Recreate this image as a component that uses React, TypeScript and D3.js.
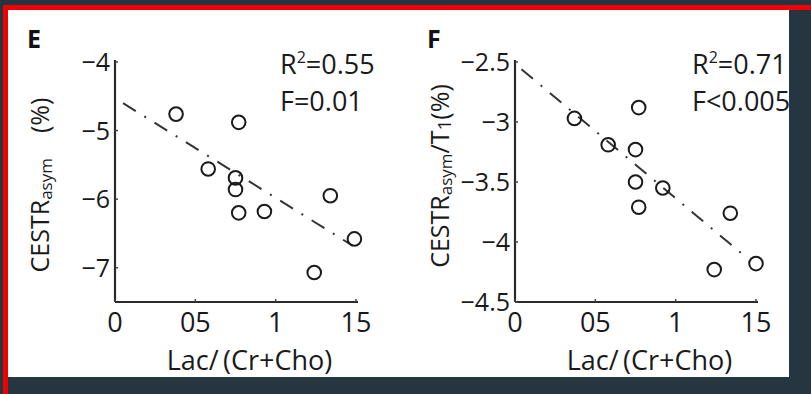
import React, { useEffect, useRef } from "react";
import * as d3 from "d3";

// shared x axis
const xTicks = [0, 0.5, 1, 1.5];
const xTickLabels = ["0", "05", "1", "15"];

// panel E
const lacE = [0.38, 0.77, 0.58, 0.75, 0.75, 1.34, 0.77, 0.93, 1.49, 1.24];
const cestE = [-4.76, -4.88, -5.56, -5.69, -5.86, -5.95, -6.2, -6.18, -6.58, -7.07];
const yTicksE = [-4, -5, -6, -7];
const yTickLabelsE = ["−4", "−5", "−6", "−7"];
const fitE = [
  [0.05, -4.6],
  [1.48, -6.68],
];

// panel F
const lacF = [0.37, 0.77, 0.58, 0.75, 0.75, 0.92, 0.77, 1.34, 1.24, 1.5];
const cestF = [-2.97, -2.88, -3.19, -3.23, -3.5, -3.55, -3.71, -3.76, -4.23, -4.18];
const yTicksF = [-2.5, -3, -3.5, -4, -4.5];
const yTickLabelsF = ["−2.5", "−3", "−3.5", "−4", "−4.5"];
const fitF = [
  [0.04, -2.56],
  [1.45, -4.14],
];

const FONT = "'Open Sans', 'Noto Sans', sans-serif";

export default function App() {
  const svgRef = useRef<SVGSVGElement>(null);

  useEffect(() => {
    const width = 811;
    const height = 394;

    const svg = d3.select(svgRef.current).attr("width", width).attr("height", height);
    svg.selectAll("*").remove();

    // frame
    svg.append("rect").attr("width", width).attr("height", height).attr("fill", "#263641");
    svg.append("rect").attr("x", 3).attr("y", 5).attr("width", width - 3).attr("height", 5).attr("fill", "#f10000");
    svg.append("rect").attr("x", 3).attr("y", 5).attr("width", 5).attr("height", height - 5).attr("fill", "#f10000");
    svg.append("rect").attr("x", 8).attr("y", 10).attr("width", 781).attr("height", 367).attr("fill", "#ffffff");

    svg
      .append("clipPath")
      .attr("id", "panel-clip")
      .append("rect")
      .attr("x", 8)
      .attr("y", 10)
      .attr("width", 781)
      .attr("height", 367);

    const root = svg.append("g").attr("clip-path", "url(#panel-clip)");

    const drawPanel = (opts: {
      left: number;
      letter: string;
      xs: number[];
      ys: number[];
      yDomain: [number, number];
      yTicks: number[];
      yTickLabels: string[];
      fit: number[][];
      r2: string;
      pText: string;
      statsX: number;
      yLabelCenter: number;
      yLabelTail: (t: d3.Selection<SVGTextElement, unknown, null, undefined>) => void;
    }) => {
      const g = root.append("g");
      const xScale = d3.scaleLinear().domain([0, 1.5]).range([opts.left, opts.left + 241]);
      const yScale = d3.scaleLinear().domain(opts.yDomain).range([302, 62]);
      const y0 = 302;

      // axes
      g.append("line")
        .attr("x1", opts.left)
        .attr("x2", opts.left)
        .attr("y1", 60)
        .attr("y2", y0)
        .attr("stroke", "#2a2a2a")
        .attr("stroke-width", 2.2);
      g.append("line")
        .attr("x1", opts.left)
        .attr("x2", xScale(1.5) + 2)
        .attr("y1", y0)
        .attr("y2", y0)
        .attr("stroke", "#2a2a2a")
        .attr("stroke-width", 2.2);

      // tiny inward ticks
      g.selectAll(".xt")
        .data(xTicks)
        .enter()
        .append("line")
        .attr("x1", (d) => xScale(d))
        .attr("x2", (d) => xScale(d))
        .attr("y1", y0)
        .attr("y2", y0 - 3)
        .attr("stroke", "#444")
        .attr("stroke-width", 1.5);
      g.selectAll(".yt")
        .data(opts.yTicks)
        .enter()
        .append("line")
        .attr("x1", opts.left)
        .attr("x2", opts.left + 3)
        .attr("y1", (d) => yScale(d))
        .attr("y2", (d) => yScale(d))
        .attr("stroke", "#444")
        .attr("stroke-width", 1.5);

      // tick labels
      g.selectAll(".xl")
        .data(xTicks)
        .enter()
        .append("text")
        .attr("x", (d) => xScale(d))
        .attr("y", 332)
        .attr("text-anchor", "middle")
        .style("font-family", FONT)
        .style("font-size", "27px")
        .attr("fill", "#1a1a1a")
        .text((d, i) => xTickLabels[i]);
      g.selectAll(".yl")
        .data(opts.yTicks)
        .enter()
        .append("text")
        .attr("x", opts.left - 5)
        .attr("y", (d) => yScale(d))
        .attr("dy", "0.36em")
        .attr("text-anchor", "end")
        .style("font-family", FONT)
        .style("font-size", "25px")
        .attr("fill", "#1a1a1a")
        .text((d, i) => opts.yTickLabels[i]);

      // regression line (dash-dot)
      g.append("path")
        .datum(opts.fit)
        .attr("fill", "none")
        .attr("stroke", "#333")
        .attr("stroke-width", 2)
        .attr("stroke-dasharray", "15 10 2 10")
        .attr(
          "d",
          d3
            .line<number[]>()
            .x((d) => xScale(d[0]))
            .y((d) => yScale(d[1]))
        );

      // points
      g.selectAll("circle")
        .data(opts.xs)
        .enter()
        .append("circle")
        .attr("cx", (d) => xScale(d))
        .attr("cy", (d, i) => yScale(opts.ys[i]))
        .attr("r", 6.8)
        .attr("fill", "none")
        .attr("stroke", "#1a1a1a")
        .attr("stroke-width", 2);

      // panel letter
      g.append("text")
        .attr("x", opts.left - 88)
        .attr("y", 48)
        .style("font-family", FONT)
        .style("font-size", "25px")
        .style("font-weight", "bold")
        .attr("fill", "#111")
        .text(opts.letter);

      // stats
      const r2 = g
        .append("text")
        .attr("x", opts.statsX)
        .attr("y", 74)
        .style("font-family", FONT)
        .style("font-size", "27px")
        .attr("fill", "#1a1a1a");
      r2.append("tspan").text("R");
      r2.append("tspan").attr("dy", -11).style("font-size", "16px").text("2");
      r2.append("tspan").attr("dy", 11).text(opts.r2);
      g.append("text")
        .attr("x", opts.statsX)
        .attr("y", 111)
        .style("font-family", FONT)
        .style("font-size", "27px")
        .attr("fill", "#1a1a1a")
        .text(opts.pText);

      // x label
      g.append("text")
        .attr("x", xScale(0.75) + 14)
        .attr("y", 370)
        .attr("text-anchor", "middle")
        .style("font-family", FONT)
        .style("font-size", "27px")
        .attr("fill", "#1a1a1a")
        .text("Lac/\u2009(Cr+Cho)");

      // y label
      const yl = g
        .append("text")
        .attr("transform", `translate(${opts.left - 66}, ${opts.yLabelCenter}) rotate(-90)`)
        .attr("text-anchor", "middle")
        .style("font-family", FONT)
        .style("font-size", "25px")
        .attr("fill", "#1a1a1a");
      yl.append("tspan").text("CESTR");
      yl.append("tspan").attr("dy", 3).style("font-size", "17px").text("asym");
      opts.yLabelTail(yl);
    };

    drawPanel({
      left: 115,
      letter: "E",
      xs: lacE,
      ys: cestE,
      yDomain: [-7.5, -4],
      yTicks: yTicksE,
      yTickLabels: yTickLabelsE,
      fit: fitE,
      r2: "=0.55",
      pText: "F=0.01",
      statsX: 280,
      yLabelCenter: 185,
      yLabelTail: (t) => {
        t.append("tspan").attr("dy", -3).text("\u2003(%)");
      },
    });

    drawPanel({
      left: 515,
      letter: "F",
      xs: lacF,
      ys: cestF,
      yDomain: [-4.5, -2.5],
      yTicks: yTicksF,
      yTickLabels: yTickLabelsF,
      fit: fitF,
      r2: "=0.71",
      pText: "F<0.005",
      statsX: 692,
      yLabelCenter: 176,
      yLabelTail: (t) => {
        t.append("tspan").attr("dy", -3).text("/T");
        t.append("tspan").attr("dy", 2).style("font-size", "19px").text("1");
        t.append("tspan").attr("dy", -2).text("(%)");
      },
    });
  }, []);

  return (
    <div style={{ position: "fixed", left: 0, top: 0 }}>
      <svg ref={svgRef} style={{ display: "block" }}></svg>
    </div>
  );
}
